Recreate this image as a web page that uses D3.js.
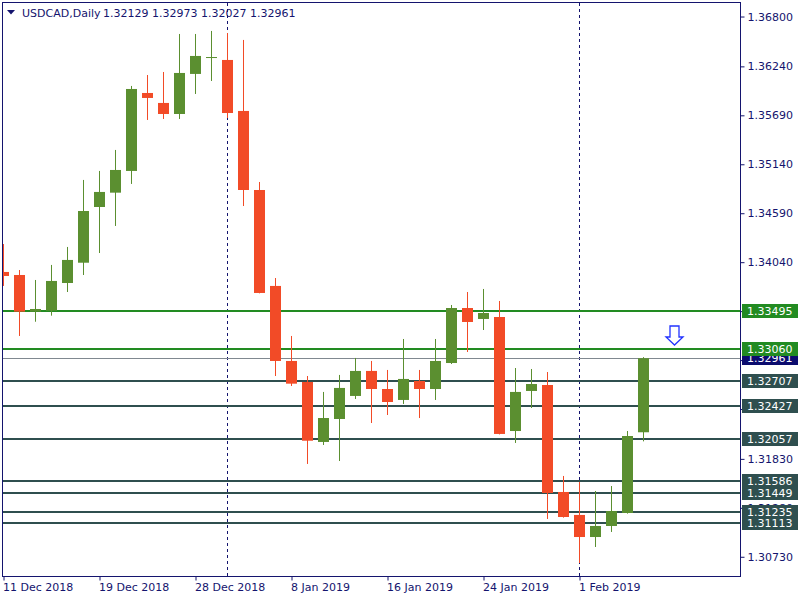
<!DOCTYPE html>
<html>
<head>
<meta charset="utf-8">
<script src="https://cdn.jsdelivr.net/npm/d3@7"></script>
<style>
  html, body { margin: 0; padding: 0; background: #ffffff; }
  svg { display: block; }
  text { font-family: "DejaVu Sans", sans-serif; font-size: 11px; }
</style>
</head>
<body>
<svg id="chart" width="800" height="600"></svg>
<script>
// ---------- DATA ----------
const dates = ["11 Dec","12 Dec","13 Dec","14 Dec","17 Dec","18 Dec","19 Dec","20 Dec","21 Dec","24 Dec","26 Dec","27 Dec","28 Dec","31 Dec",
  "2 Jan","3 Jan","4 Jan","7 Jan","8 Jan","9 Jan","10 Jan","11 Jan","14 Jan","15 Jan","16 Jan","17 Jan","18 Jan","21 Jan","22 Jan","23 Jan","24 Jan",
  "25 Jan","28 Jan","29 Jan","30 Jan","31 Jan","1 Feb","4 Feb","5 Feb","6 Feb","7 Feb"];
const opens  = [1.33930,1.33896,1.33484,1.33495,1.33806,1.34034,1.34660,1.34821,1.35065,1.35941,1.35829,1.35705,1.36155,1.36340,
  1.36312,1.35739,1.34851,1.33773,1.32930,1.32694,1.32020,1.32278,1.32537,1.32818,1.32615,1.32492,1.32705,1.32615,1.32907,1.33525,1.33402,
  1.33424,1.32143,1.32593,1.32660,1.31458,1.31200,1.30952,1.31076,1.31222,1.32129];
const highs  = [1.34244,1.33952,1.33840,1.34009,1.34211,1.34964,1.35065,1.35301,1.36020,1.36143,1.36177,1.36604,1.36604,1.36638,
  1.36615,1.36537,1.34941,1.33862,1.33211,1.32761,1.32582,1.32773,1.32964,1.32930,1.32829,1.33177,1.32829,1.33177,1.33559,1.33705,1.33739,
  1.33604,1.32851,1.32840,1.32806,1.31638,1.31570,1.31469,1.31525,1.32143,1.32973];
const lows   = [1.33773,1.33211,1.33371,1.33439,1.33705,1.33896,1.34143,1.34447,1.34919,1.35638,1.35649,1.35649,1.35930,1.36076,
  1.35660,1.34671,1.33690,1.32761,1.32649,1.31773,1.31986,1.31806,1.32503,1.32233,1.32323,1.32447,1.32289,1.32492,1.32896,1.33031,1.33278,
  1.32105,1.32009,1.32402,1.31155,1.31170,1.30660,1.30840,1.31009,1.31215,1.32027];
const closes = [1.33885,1.33484,1.33514,1.33829,1.34065,1.34615,1.34829,1.35076,1.35986,1.35885,1.35705,1.36166,1.36357,1.36345,
  1.35716,1.34851,1.33694,1.32930,1.32675,1.32034,1.32289,1.32627,1.32818,1.32615,1.32469,1.32728,1.32615,1.32930,1.33525,1.33368,1.33469,
  1.32110,1.32582,1.32671,1.31447,1.31177,1.30952,1.31076,1.31244,1.32087,1.32961];

const dateTickIdx    = [0, 6, 12, 18, 24, 30, 36];
const dateTickLabels = ["11 Dec 2018","19 Dec 2018","28 Dec 2018","8 Jan 2019","16 Jan 2019","24 Jan 2019","1 Feb 2019"];
const separatorIdx   = [14, 36];

const priceTicks = [1.36800,1.36240,1.35690,1.35140,1.34590,1.34040,1.33490,1.32940,1.32390,1.31830,1.31280,1.30730];
const hiddenTicks = [1.33490, 1.32940];   // fully covered by level labels in the reference

const resistanceLevels = [1.33495, 1.33060];
const supportLevels    = [1.32707, 1.32427, 1.32057, 1.31586, 1.31449, 1.31235, 1.31113];
const bidPrice = 1.32961;

const symbol = "USDCAD,Daily";
const ohlcText = ["1.32129","1.32973","1.32027","1.32961"];

// ---------- LAYOUT ----------
const plot = { left: 2.5, top: 2.5, right: 740.5, bottom: 576.5 };
const C_UP = "#5b8f30", C_DN = "#f24b27", C_NAVY = "#14146e";
const C_RES = "#228b22", C_SUP = "#2f4f4f", C_BID = "#808890";

const svg = d3.select("#chart");

const x = d3.scaleLinear().domain([0, 40]).range([3, 643]);
const y = d3.scaleLinear().domain([1.30514, 1.36952]).range([576, 3]);

svg.append("defs").append("clipPath").attr("id", "plotClip")
  .append("rect").attr("x", 3).attr("y", 3).attr("width", 737).attr("height", 573);

const g = svg.append("g").attr("clip-path", "url(#plotClip)");

// separators
g.selectAll("line.sep").data(separatorIdx).join("line")
  .attr("x1", d => x(d) + 0.5).attr("x2", d => x(d) + 0.5)
  .attr("y1", 3).attr("y2", 576)
  .attr("stroke", C_NAVY).attr("stroke-width", 1).attr("stroke-dasharray", "3,3");

// level lines
g.append("line").attr("x1", 3).attr("x2", 740)
  .attr("y1", Math.round(y(bidPrice)) + 0.5).attr("y2", Math.round(y(bidPrice)) + 0.5)
  .attr("stroke", C_BID).attr("stroke-width", 1);
g.selectAll("line.sup").data(supportLevels).join("line")
  .attr("x1", 3).attr("x2", 740)
  .attr("y1", d => Math.round(y(d))).attr("y2", d => Math.round(y(d)))
  .attr("stroke", C_SUP).attr("stroke-width", 2);
g.selectAll("line.res").data(resistanceLevels).join("line")
  .attr("x1", 3).attr("x2", 740)
  .attr("y1", d => Math.round(y(d))).attr("y2", d => Math.round(y(d)))
  .attr("stroke", C_RES).attr("stroke-width", 2);

// candles
const idx = d3.range(dates.length);
const cg = g.selectAll("g.c").data(idx).join("g");
cg.append("rect")
  .attr("x", i => x(i)).attr("width", 1)
  .attr("y", i => y(highs[i])).attr("height", i => Math.max(1, y(lows[i]) - y(highs[i])))
  .attr("fill", i => closes[i] >= opens[i] ? C_UP : C_DN);
cg.append("rect")
  .attr("x", i => x(i) - 5).attr("width", 11)
  .attr("y", i => y(Math.max(opens[i], closes[i])))
  .attr("height", i => Math.max(1, Math.abs(y(opens[i]) - y(closes[i]))))
  .attr("fill", i => closes[i] >= opens[i] ? C_UP : C_DN);

// arrow marker (down)
const ax = 674.5, ay = 326;
svg.append("path")
  .attr("d", `M${ax-4.5},${ay} L${ax+4.5},${ay} L${ax+4.5},${ay+11} L${ax+8.5},${ay+11} L${ax},${ay+19} L${ax-8.5},${ay+11} L${ax-4.5},${ay+11} Z`)
  .attr("fill", "#ffffff").attr("stroke", "#2233ff").attr("stroke-width", 1.3);

// frame
svg.append("rect").attr("x", plot.left).attr("y", plot.top)
  .attr("width", plot.right - plot.left).attr("height", plot.bottom - plot.top)
  .attr("fill", "none").attr("stroke", C_NAVY).attr("stroke-width", 1);

// price axis
const yAxis = d3.axisRight(y).tickValues(priceTicks).tickSize(4).tickPadding(3)
  .tickFormat(d => hiddenTicks.includes(d) ? "" : d3.format(".5f")(d));
const yAx = svg.append("g").attr("transform", "translate(740.5,0)").call(yAxis);
yAx.select(".domain").remove();
yAx.selectAll("line").attr("stroke", C_NAVY);
yAx.selectAll("text").attr("fill", C_NAVY).attr("font-family", "DejaVu Sans").attr("font-size", 11);

// date axis
const xAxis = d3.axisBottom(x).tickValues(dateTickIdx).tickSize(4).tickPadding(3)
  .tickFormat((d, k) => dateTickLabels[k]);
const xAx = svg.append("g").attr("transform", "translate(0.5,576.5)").call(xAxis);
xAx.select(".domain").remove();
xAx.selectAll("line").attr("stroke", C_NAVY);
xAx.selectAll("text").attr("fill", C_NAVY).attr("text-anchor", "start").attr("x", -1)
  .attr("font-family", "DejaVu Sans").attr("font-size", 11);

// price label boxes
function priceBox(val, fill) {
  const cy = Math.round(y(val));
  const bg = svg.append("g");
  bg.append("rect").attr("x", 742).attr("y", cy - 7).attr("width", 56).attr("height", 14).attr("fill", fill);
  bg.append("text").attr("x", 747).attr("y", cy + 4).attr("fill", "#ffffff").text(val.toFixed(5));
}
priceBox(bidPrice, "#0c0c6e");
supportLevels.forEach(v => priceBox(v, C_SUP));
resistanceLevels.forEach(v => priceBox(v, C_RES));

// title
svg.append("path").attr("d", "M7,10 L15,10 L11,14.5 Z").attr("fill", C_NAVY);
svg.append("text").attr("x", 22).attr("y", 17).attr("fill", C_NAVY).text(symbol);
svg.append("text").attr("x", 103).attr("y", 17).attr("fill", C_NAVY).text(ohlcText.join(" "));
</script>
</body>
</html>
